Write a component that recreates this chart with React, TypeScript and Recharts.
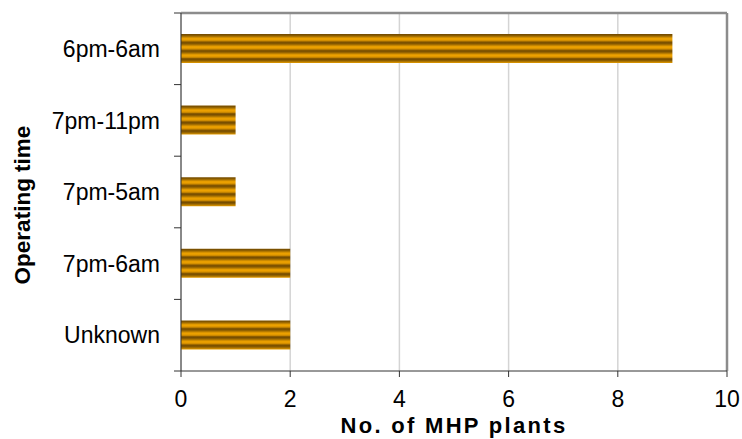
import React from 'react';
import { BarChart, Bar, XAxis, YAxis, CartesianGrid, ReferenceLine } from 'recharts';

const categories = ['6pm-6am', '7pm-11pm', '7pm-5am', '7pm-6am', 'Unknown'];
const plantCounts = [9, 1, 1, 2, 2];
const xTicks = [0, 2, 4, 6, 8, 10];

const data = categories.map((name, i) => ({ name, value: plantCounts[i] }));

const W = 742;
const H = 439;
const M = { top: 13, right: 15, bottom: 0, left: 0 };
const X_AXIS_H = 68;
const Y_AXIS_W = 181;
const PLOT_H = H - M.top - M.bottom - X_AXIS_H;
const BAND = PLOT_H / categories.length;
const FONT = '"Liberation Sans", Arial, sans-serif';

const YTick = (props: any) => {
  const { payload, index } = props;
  const cy = payload.coordinate;
  const axisX = Y_AXIS_W;
  return (
    <g>
      <text x={axisX - 21} y={cy} dy="0.36em" textAnchor="end" fontFamily={FONT} fontSize={23} fill="#000">
        {payload.value}
      </text>
      <line x1={axisX - 7} x2={axisX} y1={cy + BAND / 2} y2={cy + BAND / 2} stroke="#333" strokeWidth={1} />
      {index === 0 && (
        <line x1={axisX - 7} x2={axisX} y1={cy - BAND / 2} y2={cy - BAND / 2} stroke="#333" strokeWidth={1} />
      )}
    </g>
  );
};

export default function App() {
  return (
    <div style={{ position: 'absolute', left: 0, top: 0, width: W, height: H, background: '#fff' }}>
      <BarChart width={W} height={H} data={data} layout="vertical" margin={M} barSize={29}>
        <defs>
          <linearGradient id="stripeGrad" x1="0" y1="0" x2="0" y2="1">
            <stop offset="0%" stopColor="#6e4700" />
            <stop offset="20%" stopColor="#8a5c00" />
            <stop offset="55%" stopColor="#f5a700" />
            <stop offset="80%" stopColor="#d99200" />
            <stop offset="100%" stopColor="#6e4700" />
          </linearGradient>
          <pattern id="stripes" patternUnits="objectBoundingBox" patternContentUnits="objectBoundingBox" x="0" y="0" width="1" height="0.2857">
            <rect x="0" y="0" width="1" height="0.2857" fill="url(#stripeGrad)" />
          </pattern>
        </defs>
        <CartesianGrid horizontal={false} vertical={true} stroke="#d4d4d4" strokeWidth={1.5} />
        <XAxis
          type="number"
          domain={[0, 10]}
          ticks={xTicks}
          interval={0}
          height={X_AXIS_H}
          stroke="#333"
          tickSize={6}
          tickMargin={14}
          tick={{ fill: '#000', fontSize: 23, fontFamily: FONT }}
          label={{
            content: (p: any) => {
              const vb = p.viewBox;
              return (
                <text x={vb.x + vb.width / 2} y={433} textAnchor="middle" fontFamily={FONT} fontSize={22} fontWeight="bold" letterSpacing={2.3} fill="#000">
                  No. of MHP plants
                </text>
              );
            },
          }}
        />
        <YAxis
          type="category"
          dataKey="name"
          width={Y_AXIS_W}
          stroke="#333"
          tickLine={false}
          tick={<YTick />}
          interval={0}
          label={{
            content: () => (
              <text x={22} y={205} transform="rotate(-90 22 205)" dy="0.36em" textAnchor="middle" fontFamily={FONT} fontSize={22.5} fontWeight="bold" fill="#000">
                Operating time
              </text>
            ),
          }}
        />
        <ReferenceLine y={categories[0]} position="start" stroke="#8c8c8c" strokeWidth={2.5} />
        <ReferenceLine x={10} stroke="#8c8c8c" strokeWidth={2.5} />
        <Bar dataKey="value" fill="url(#stripes)" isAnimationActive={false} />
      </BarChart>
    </div>
  );
}
